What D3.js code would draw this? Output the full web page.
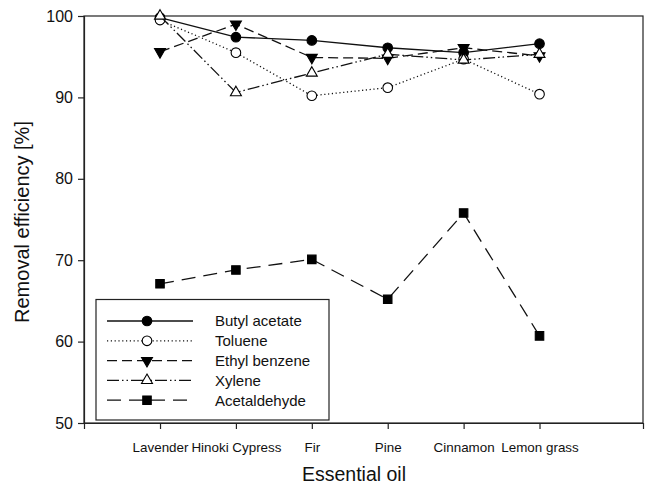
<!DOCTYPE html>
<html>
<head>
<meta charset="utf-8">
<script src="https://cdn.jsdelivr.net/npm/d3@7"></script>
<style>
  html, body { margin: 0; padding: 0; background: #fff; }
  svg { display: block; font-family: "Liberation Sans", Arial, sans-serif; }
</style>
</head>
<body>
<svg id="chart" width="645" height="489"></svg>
<script>
// Essential oils tested
const oils = ["Lavender", "Hinoki Cypress", "Fir", "Pine", "Cinnamon", "Lemon grass"];

// Removal efficiency (%) of each VOC per essential oil
const butylAcetate = [99.8, 97.4, 97.0, 96.1, 95.5, 96.6];
const toluene      = [99.5, 95.5, 90.2, 91.2, 94.7, 90.4];
const ethylBenzene = [95.6, 99.0, 94.9, 94.8, 96.1, 95.1];
const xylene       = [100.0, 90.6, 93.0, 95.3, 94.6, 95.3];
const acetaldehyde = [67.1, 68.8, 70.1, 65.2, 75.8, 60.7];

const yTicks = [50, 60, 70, 80, 90, 100];

const series = [
  { name: "Butyl acetate", values: butylAcetate, dash: null,               symbol: "circle",   fill: "#000" },
  { name: "Toluene",       values: toluene,      dash: "1.2,2.6",          symbol: "circle",   fill: "#fff" },
  { name: "Ethyl benzene", values: ethylBenzene, dash: "10,5",             symbol: "triDown",  fill: "#000" },
  { name: "Xylene",        values: xylene,       dash: "12,3,1.5,3,1.5,3", symbol: "triUp",    fill: "#fff" },
  { name: "Acetaldehyde",  values: acetaldehyde, dash: "14,8",             symbol: "square",   fill: "#000" }
];

const svg = d3.select("#chart");
const plotL = 84, plotR = 643, plotT = 16, plotB = 423;

const x = d3.scalePoint().domain(oils).range([plotL, plotR]).padding(1.1825).align(0.4235);
const y = d3.scaleLinear().domain([50, 100]).range([plotB, plotT]);

const ink = "#222";

// Frame
svg.append("rect")
  .attr("x", plotL).attr("y", plotT)
  .attr("width", plotR - plotL).attr("height", plotB - plotT)
  .attr("fill", "none").attr("stroke", ink).attr("stroke-width", 1.2);

// Y axis
const yAxis = svg.append("g")
  .attr("transform", `translate(${plotL},0)`)
  .call(d3.axisLeft(y).tickValues(yTicks).tickSize(6).tickPadding(5).tickFormat(d3.format("d")));
yAxis.select(".domain").attr("stroke", ink).attr("stroke-width", 1.2);
yAxis.selectAll(".tick line").attr("stroke", ink).attr("stroke-width", 1.2);
yAxis.selectAll(".tick text").attr("font-size", 16).attr("fill", "#111")
  .attr("font-family", "Liberation Sans, Arial, sans-serif");

// X axis
const xAxis = svg.append("g")
  .attr("transform", `translate(0,${plotB})`)
  .call(d3.axisBottom(x).tickSize(6).tickPadding(13));
xAxis.select(".domain").attr("stroke", ink).attr("stroke-width", 1.2);
xAxis.selectAll(".tick line").attr("stroke", ink).attr("stroke-width", 1.2);
xAxis.selectAll(".tick text").attr("font-size", 13.4).attr("fill", "#111")
  .attr("font-family", "Liberation Sans, Arial, sans-serif");

// Axis titles
svg.append("text")
  .attr("x", 354).attr("y", 481)
  .attr("text-anchor", "middle").attr("font-size", 19.5).attr("fill", "#111")
  .text("Essential oil");

svg.append("text")
  .attr("transform", "translate(29,222) rotate(-90)")
  .attr("text-anchor", "middle").attr("font-size", 20).attr("fill", "#111")
  .text("Removal efficiency [%]");

// Marker generator
function marker(sel, type) {
  if (type === "circle") {
    return sel.append("circle").attr("r", 4.8);
  }
  if (type === "square") {
    return sel.append("path").attr("d", d3.symbol(d3.symbolSquare, 72)());
  }
  const p = sel.append("path").attr("d", d3.symbol(d3.symbolTriangle, 52)());
  if (type === "triDown") p.attr("transform", "rotate(180)");
  return p;
}

const line = d3.line().x((d, i) => x(oils[i])).y(d => y(d));

// Series: line first, then markers on top
series.forEach(s => {
  const g = svg.append("g");
  g.append("path")
    .datum(s.values)
    .attr("d", line)
    .attr("fill", "none")
    .attr("stroke", "#111")
    .attr("stroke-width", 1.3)
    .attr("stroke-dasharray", s.dash);
  s.values.forEach((v, i) => {
    const m = g.append("g").attr("transform", `translate(${x(oils[i])},${y(v)})`);
    marker(m, s.symbol).attr("fill", s.fill).attr("stroke", "#000").attr("stroke-width", 1.1);
  });
});

// Legend
const lg = svg.append("g");
lg.append("rect")
  .attr("x", 96).attr("y", 299.5).attr("width", 233).attr("height", 120.5)
  .attr("fill", "#fff").attr("stroke", ink).attr("stroke-width", 1.2);

series.forEach((s, i) => {
  const yy = 321 + i * 19.8;
  lg.append("line")
    .attr("x1", 107).attr("x2", 193).attr("y1", yy).attr("y2", yy)
    .attr("stroke", "#111").attr("stroke-width", 1.3)
    .attr("stroke-dasharray", s.dash);
  const m = lg.append("g").attr("transform", `translate(147,${yy})`);
  marker(m, s.symbol).attr("fill", s.fill).attr("stroke", "#000").attr("stroke-width", 1.1);
  lg.append("text")
    .attr("x", 215).attr("y", yy).attr("dy", "0.36em")
    .attr("font-size", 15).attr("fill", "#111")
    .text(s.name);
});
</script>
</body>
</html>
